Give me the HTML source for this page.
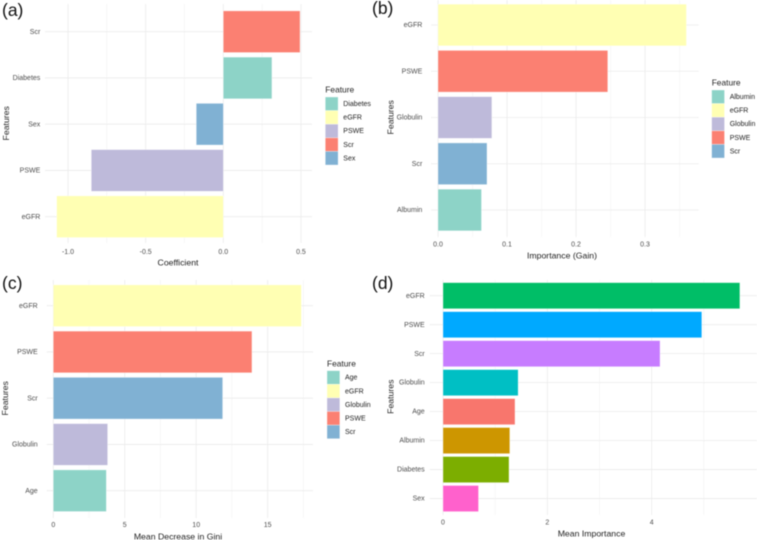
<!DOCTYPE html>
<html lang="en">
<head>
<meta charset="utf-8">
<title>Feature importance panels</title>
<style>
html,body{margin:0;padding:0;background:#fff;width:757px;height:540px;overflow:hidden}
svg{display:block;filter:blur(0.4px);font-family:"Liberation Sans",sans-serif}
</style>
</head>
<body>
<svg id="chart" xmlns="http://www.w3.org/2000/svg" width="757" height="540" viewBox="0 0 757 540"></svg>
<script>
// Panel (a)
const aCategories = ["Scr", "Diabetes", "Sex", "PSWE", "eGFR"];
const aValues = [0.494, 0.313, -0.174, -0.85, -1.073];
const aTicks = [-1.0, -0.5, 0.0, 0.5];
const aTickLabels = ["-1.0", "-0.5", "0.0", "0.5"];
const aLegend = ["Diabetes", "eGFR", "PSWE", "Scr", "Sex"];

// Panel (b)
const bCategories = ["eGFR", "PSWE", "Globulin", "Scr", "Albumin"];
const bValues = [0.36, 0.246, 0.078, 0.071, 0.063];
const bTicks = [0.0, 0.1, 0.2, 0.3];
const bTickLabels = ["0.0", "0.1", "0.2", "0.3"];
const bLegend = ["Albumin", "eGFR", "Globulin", "PSWE", "Scr"];

// Panel (c)
const cCategories = ["eGFR", "PSWE", "Scr", "Globulin", "Age"];
const cValues = [17.36, 13.9, 11.85, 3.8, 3.71];
const cTicks = [0, 5, 10, 15];
const cTickLabels = ["0", "5", "10", "15"];
const cLegend = ["Age", "eGFR", "Globulin", "PSWE", "Scr"];

// Panel (d)
const dCategories = ["eGFR", "PSWE", "Scr", "Globulin", "Age", "Albumin", "Diabetes", "Sex"];
const dValues = [5.69, 4.96, 4.16, 1.44, 1.38, 1.28, 1.265, 0.68];
const dTicks = [0, 2, 4];
const dTickLabels = ["0", "2", "4"];

// Legend / bar fills, in legend order
const aColors = ["#8DD3C7", "#FFFFB3", "#BEBADA", "#FB8072", "#80B1D3"];
const dColors = ["#00BE67", "#00A9FF", "#C77CFF", "#00BFC4", "#F8766D", "#CD9600", "#7CAE00", "#FF61CC"];

const svg = document.getElementById("chart");
const NS = "http://www.w3.org/2000/svg";
const textNudge = 0.6;

function make(parent, tag, attrs, text) {
  const el = document.createElementNS(NS, tag);
  for (const k in attrs) el.setAttribute(k, attrs[k]);
  if (text !== undefined) el.textContent = text;
  parent.appendChild(el);
  return el;
}

function drawPanel(p) {
  const g = make(svg, "g", {});
  
  

  const xPos = v => p.x0 + v * p.pxPerUnit;
  const yPos = i => p.yFirst + i * p.yStep;
  const barH = p.yStep * 0.9;

  // minor vertical grid: midpoints of the tick spacing
  const tickStep = p.ticks[1] - p.ticks[0];
  const minors = [];
  for (let n = -1; n < p.ticks.length; n++) {
    minors.push(p.ticks[0] + (n + 0.5) * tickStep);
  }
  minors.forEach(v => {
    const x = xPos(v);
    if (x < p.left || x > p.right) return;
    const line = make(g, "line", {x1: x, x2: x, y1: p.top, y2: p.bottom, stroke: "#f0f0f0", "stroke-width": 0.5});
    
    
  });

  // major vertical grid and x tick labels
  p.ticks.forEach((v, i) => {
    const x = xPos(v);
    const line = make(g, "line", {x1: x, x2: x, y1: p.top, y2: p.bottom, stroke: "#ebebeb", "stroke-width": 0.8});
    
    
    const t = make(g, "text", {x: x, y: p.xTickY + textNudge, "text-anchor": "middle", "font-size": 7, fill: "#4d4d4d", "dominant-baseline": "central"}, p.tickLabels[i]);
    
    
  });

  // horizontal grid and category labels
  p.categories.forEach((c, i) => {
    const y = yPos(i);
    const line = make(g, "line", {x1: p.left, x2: p.right, y1: y, y2: y, stroke: "#ebebeb", "stroke-width": 0.8});
    
    
    const t = make(g, "text", {x: p.yLabelX, y: y + textNudge, "text-anchor": "end", "font-size": 7, fill: "#4d4d4d", "dominant-baseline": "central"}, c);
    
    
  });

  // bars
  p.categories.forEach((c, i) => {
    const a = xPos(0), b = xPos(p.values[i]);
    const rect = make(g, "rect", {
      x: Math.min(a, b), y: yPos(i) - barH / 2,
      width: Math.abs(b - a), height: barH,
      fill: p.colorOf(c, i), stroke: "#ffffff", "stroke-opacity": 0.5, "stroke-width": 0.6
    });
    
    
  });

  // axis titles
  const xt = make(g, "text", {x: p.xTitleX, y: p.xTitleY + textNudge, "text-anchor": "middle", "font-size": 8.7, fill: "#222", "dominant-baseline": "central"}, p.xTitle);
  
  
  const yt = make(g, "text", {x: 0, y: 0, transform: "translate(" + p.yTitleX + "," + p.yTitleY + ") rotate(-90)", "text-anchor": "middle", "font-size": 8.7, fill: "#222", "dominant-baseline": "central"}, "Features");
  
  

  // panel tag
  const tag = make(g, "text", {x: p.tagX, y: p.tagY, "font-size": 17.5, fill: "#111", "dominant-baseline": "central"}, "(" + p.id + ")");
  
  

  // legend
  if (p.legend) {
    const lg = make(g, "g", {});
    
    
    const lt = make(lg, "text", {x: p.legendX, y: p.legendY - 8 + textNudge, "font-size": 8.4, fill: "#222", "dominant-baseline": "central"}, "Feature");
    
    
    p.legend.forEach((name, i) => {
      const rowY = p.legendY + i * 13.6;
      const key = make(lg, "rect", {x: p.legendX, y: rowY, width: 12.8, height: 13.6, fill: aColors[i], stroke: "#ffffff", "stroke-opacity": 0.5, "stroke-width": 0.6});
      
      
      const lab = make(lg, "text", {x: p.legendX + 18, y: rowY + 6.9 + textNudge, "font-size": 7, fill: "#222", "dominant-baseline": "central"}, name);
      
      
    });
  }
}

const legendColor = legend => c => aColors[legend.indexOf(c)];

drawPanel({
  id: "a", categories: aCategories, values: aValues, ticks: aTicks, tickLabels: aTickLabels,
  legend: aLegend, colorOf: legendColor(aLegend),
  x0: 223.3, pxPerUnit: 155.3, left: 45, right: 312, top: 4, bottom: 243,
  yFirst: 31.7, yStep: 46.25, xTickY: 251.7, xTitle: "Coefficient", xTitleX: 178, xTitleY: 261.7,
  yLabelX: 40.3, yTitleX: 6, yTitleY: 123.3, tagX: 2, tagY: 10,
  legendX: 325.3, legendY: 97
});
drawPanel({
  id: "b", categories: bCategories, values: bValues, ticks: bTicks, tickLabels: bTickLabels,
  legend: bLegend, colorOf: legendColor(bLegend),
  x0: 438, pxPerUnit: 690, left: 431, right: 698.7, top: 0, bottom: 237,
  yFirst: 25, yStep: 46.25, xTickY: 244.3, xTitle: "Importance (Gain)", xTitleX: 562, xTitleY: 255,
  yLabelX: 422.3, yTitleX: 390.3, yTitleY: 117.3, tagX: 372, tagY: 8,
  legendX: 711.7, legendY: 90
});
drawPanel({
  id: "c", categories: cCategories, values: cValues, ticks: cTicks, tickLabels: cTickLabels,
  legend: cLegend, colorOf: legendColor(cLegend),
  x0: 53.3, pxPerUnit: 14.29, left: 46.7, right: 313, top: 280, bottom: 518,
  yFirst: 305.7, yStep: 46.25, xTickY: 525, xTitle: "Mean Decrease in Gini", xTitleX: 178, xTitleY: 535.7,
  yLabelX: 37.7, yTitleX: 5, yTitleY: 398.3, tagX: 2, tagY: 283,
  legendX: 327, legendY: 370.7
});
drawPanel({
  id: "d", categories: dCategories, values: dValues, ticks: dTicks, tickLabels: dTickLabels,
  legend: null, colorOf: (c, i) => dColors[i],
  x0: 443, pxPerUnit: 52.17, left: 429.7, right: 757, top: 280, bottom: 515,
  yFirst: 295.7, yStep: 28.98, xTickY: 522.3, xTitle: "Mean Importance", xTitleX: 591.5, xTitleY: 532.7,
  yLabelX: 424.7, yTitleX: 390.7, yTitleY: 396.7, tagX: 372, tagY: 283
});
</script>
</body>
</html>
